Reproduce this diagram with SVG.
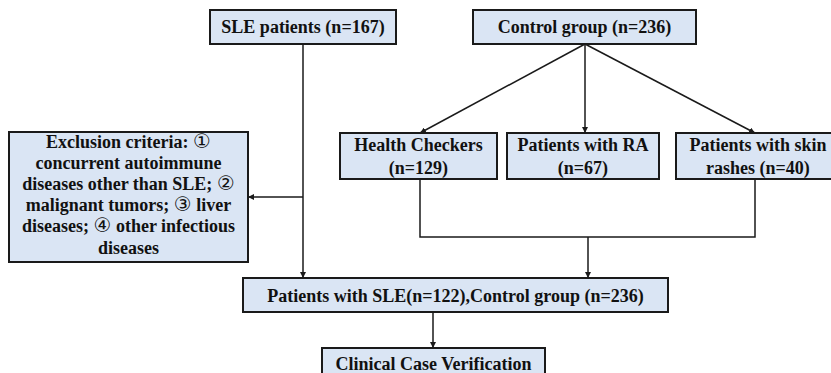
<svg xmlns="http://www.w3.org/2000/svg" width="831" height="373" viewBox="0 0 831 373">
<style>
.box{fill:#dae5f4;stroke:#1a1a1a;stroke-width:2}
text{font-family:"Liberation Serif","Times New Roman",serif;font-weight:bold;font-size:18px;fill:#111;text-anchor:middle}
.c{font-family:"DejaVu Sans","Noto Sans CJK SC",sans-serif;font-weight:normal;font-size:20px}
.ln{fill:none;stroke:#1a1a1a;stroke-width:1.5}
</style>
<defs>
<marker id="ah" viewBox="0 0 10 10" refX="10" refY="5" markerWidth="6" markerHeight="6" orient="auto" markerUnits="userSpaceOnUse"><path d="M0,0 L10,5 L0,10 z" fill="#1a1a1a"/></marker>
</defs>
<rect width="831" height="373" fill="#fff"/>
<g id="sle"><rect class="box" x="210" y="10" width="186" height="34"/><text x="303" y="33">SLE patients (n=167)</text></g>
<g id="control"><rect class="box" x="473" y="10" width="223" height="34"/><text x="584.5" y="33">Control group (n=236)</text></g>
<g id="exclusion"><rect class="box" x="9" y="132" width="239" height="130"/>
<text x="128.5" y="148">Exclusion criteria: <tspan class="c">①</tspan></text>
<text x="128.5" y="169">concurrent autoimmune</text>
<text x="128.5" y="190">diseases other than SLE; <tspan class="c">②</tspan></text>
<text x="128.5" y="211">malignant tumors; <tspan class="c">③</tspan> liver</text>
<text x="128.5" y="232">diseases; <tspan class="c">④</tspan> other infectious</text>
<text x="128.5" y="254">diseases</text></g>
<g id="health"><rect class="box" x="340" y="133" width="157" height="46"/><text x="418.5" y="151">Health Checkers</text><text x="418.5" y="174">(n=129)</text></g>
<g id="ra"><rect class="box" x="507" y="133" width="152" height="46"/><text x="583" y="151">Patients with RA</text><text x="583" y="174">(n=67)</text></g>
<g id="skin"><rect class="box" x="676" y="133" width="160" height="46"/><text x="758" y="151">Patients with skin</text><text x="758" y="174">rashes (n=40)</text></g>
<g id="merged"><rect class="box" x="243" y="278" width="425" height="34"/><text x="455.5" y="302">Patients with SLE(n=122),Control group (n=236)</text></g>
<g id="clinical"><rect class="box" x="322" y="348" width="223" height="34"/><text x="433.5" y="370">Clinical Case Verification</text></g>
<g id="connectors">
<path class="ln" d="M303,44 V278" marker-end="url(#ah)"/>
<path class="ln" d="M303,197 H248" marker-end="url(#ah)"/>
<path class="ln" d="M585,44 L420,133" marker-end="url(#ah)"/>
<path class="ln" d="M585,44 V133" marker-end="url(#ah)"/>
<path class="ln" d="M585,44 L755,133" marker-end="url(#ah)"/>
<path class="ln" d="M420,179 V237 H755 V179"/>
<path class="ln" d="M588,237 V278" marker-end="url(#ah)"/>
<path class="ln" d="M433,312 V348" marker-end="url(#ah)"/>
</g>
</svg>
